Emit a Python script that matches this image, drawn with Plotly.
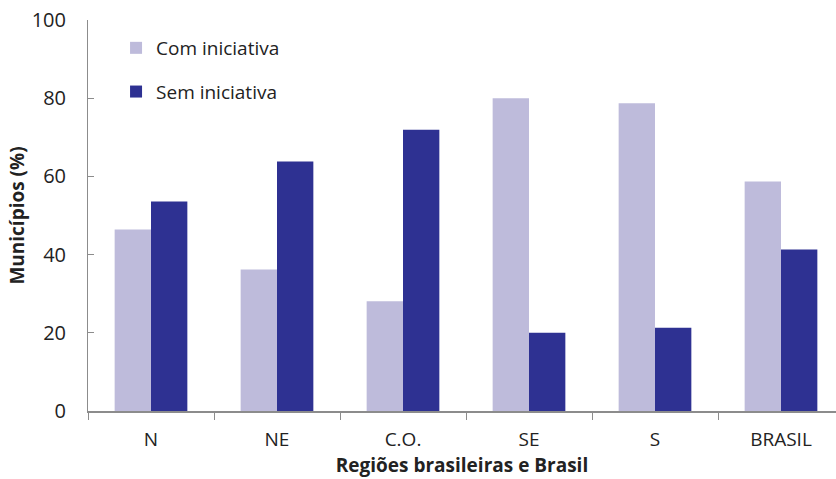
import plotly.graph_objects as go

regioes = ["N", "NE", "C.O.", "SE", "S", "BRASIL"]
com_iniciativa = [46.4, 36.2, 28.1, 80.0, 78.7, 58.7]
sem_iniciativa = [53.6, 63.8, 71.9, 20.0, 21.3, 41.3]

cor_com = "#BEBBDB"
cor_sem = "#2E3192"
fonte = "Open Sans"

fig = go.Figure()
fig.add_trace(go.Bar(x=regioes, y=com_iniciativa, name="Com iniciativa",
                     marker=dict(color=cor_com, line=dict(width=0)),
                     legendgroup="a"))
fig.add_trace(go.Bar(x=regioes, y=sem_iniciativa, name="Sem iniciativa",
                     marker=dict(color=cor_sem, line=dict(width=0)),
                     legendgroup="b"))

fig.update_layout(
    width=836, height=479,
    margin=dict(l=88, r=0, t=20, b=68),
    plot_bgcolor="white", paper_bgcolor="white",
    barmode="group", bargap=0.423, bargroupgap=0,
    font=dict(family=fonte, size=19, color="#222222"),
    showlegend=True,
    legend=dict(x=0.0375, y=0.977, xanchor="left", yanchor="top",
                bgcolor="rgba(0,0,0,0)", font=dict(size=19),
                tracegroupgap=16, traceorder="grouped"),
    xaxis=dict(
        type="category",
        range=[-0.5, -0.5 + 748 / 126],
        showline=True, linecolor="#8C8C8C", linewidth=2,
        ticks="outside", tickson="boundaries", ticklen=7,
        tickcolor="#8C8C8C", tickfont=dict(size=19),
        ticklabelstandoff=10,
        title=dict(text="<b>Regiões brasileiras e Brasil</b>",
                   font=dict(size=19), standoff=8),
        showgrid=False, zeroline=False,
    ),
    yaxis=dict(
        range=[0, 100], dtick=20,
        showline=True, linecolor="#8C8C8C", linewidth=1,
        ticks="inside", ticklen=6, tickcolor="#8C8C8C",
        tickfont=dict(size=20), ticklabelstandoff=17,
        title=dict(text="<b>Municípios (%)</b>", font=dict(size=19),
                   standoff=2),
        showgrid=False, zeroline=False,
    ),
)

fig.write_html("out.html")
